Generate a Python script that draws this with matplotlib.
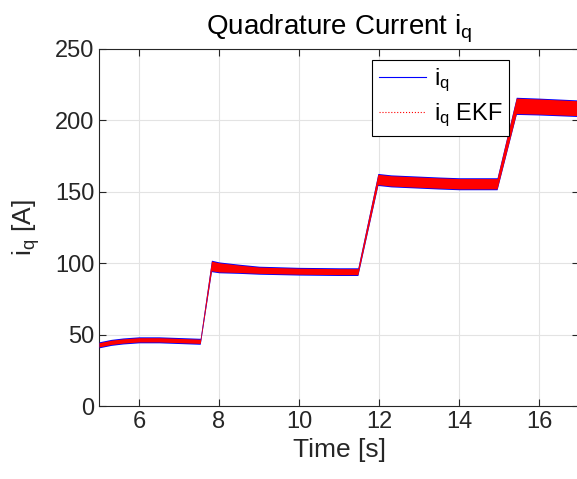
import numpy as np
import matplotlib.pyplot as plt
from matplotlib.lines import Line2D

plt.rcParams['font.family'] = ['Liberation Sans', 'DejaVu Sans']
plt.rcParams['mathtext.fontset'] = 'custom'
plt.rcParams['mathtext.rm'] = 'Liberation Sans'

# iq signal envelope (centre + half band of the noise)
t = [5.0, 5.3, 5.6, 6.0, 6.5, 7.0, 7.5, 7.53, 7.81, 8.0, 8.5, 9.0, 10.0,
     11.0, 11.47, 11.97, 12.3, 12.7, 13.5, 14.0, 14.95, 15.43, 16.0, 17.0]
iq_mid = [42.8, 44.5, 45.5, 46.3, 46.3, 45.8, 45.3, 45.3, 98.0, 97.0, 96.0,
          95.0, 94.3, 94.0, 94.0, 158.5, 157.5, 157.0, 156.0, 155.5, 155.5,
          210.0, 209.5, 208.3]
iq_half = [1.5, 1.5, 1.5, 1.5, 1.5, 1.5, 1.5, 1.5, 3.4, 3.2, 2.6, 2.2, 2.1,
           2.1, 2.1, 3.6, 3.6, 3.6, 3.6, 3.6, 3.6, 5.4, 5.3, 5.2]
blue_extra = 0.6

t = np.array(t)
iq_mid = np.array(iq_mid)
iq_half = np.array(iq_half)

fig = plt.figure(figsize=(5.77, 4.79), dpi=100)
ax = fig.add_axes([0.1716, 0.1524, 0.832, 0.746])

# iq (blue, solid) and iq EKF (red, dotted) overlap almost completely
ax.fill_between(t, iq_mid - iq_half - blue_extra, iq_mid + iq_half + blue_extra,
                color='#0000ff', lw=0, zorder=3)
ax.fill_between(t, iq_mid - iq_half, iq_mid + iq_half,
                color='#ff0000', lw=0, zorder=4)

ax.set_xlim(5, 17)
ax.set_ylim(0, 250)
ax.set_xticks(np.arange(6, 17, 2))
ax.set_yticks(np.arange(0, 251, 50))
ax.grid(True, color='#e3e3e3', lw=0.8)
ax.set_axisbelow(True)
ax.tick_params(direction='in', top=True, right=True, labelsize=17,
               length=5, width=0.8, color='#262626', labelcolor='#262626')
for s in ax.spines.values():
    s.set_color('#262626')
    s.set_linewidth(0.8)

ax.set_title('Quadrature Current $\\mathregular{i_q}$', fontsize=20,
             color='#000000', pad=10)
ax.set_xlabel('Time [s]', fontsize=19, color='#262626')
ax.set_ylabel('$\\mathregular{i_q}$ [A]', fontsize=19, color='#262626',
              labelpad=9)

handles = [Line2D([], [], color='#0000ff', lw=0.8, ls='-'),
           Line2D([], [], color='#ff0000', lw=0.8, ls=':')]
leg = ax.legend(handles, ['$\\mathregular{i_q}$', '$\\mathregular{i_q}$ EKF'],
                loc='upper left', bbox_to_anchor=(0.645, 0.875),
                bbox_transform=fig.transFigure, fontsize=17,
                frameon=True, fancybox=False, framealpha=1,
                edgecolor='black', handlelength=2.0, handletextpad=0.3,
                borderpad=0.3, labelspacing=0.3, borderaxespad=0)
leg.get_frame().set_linewidth(0.8)

fig.savefig('out.png', dpi=100)
